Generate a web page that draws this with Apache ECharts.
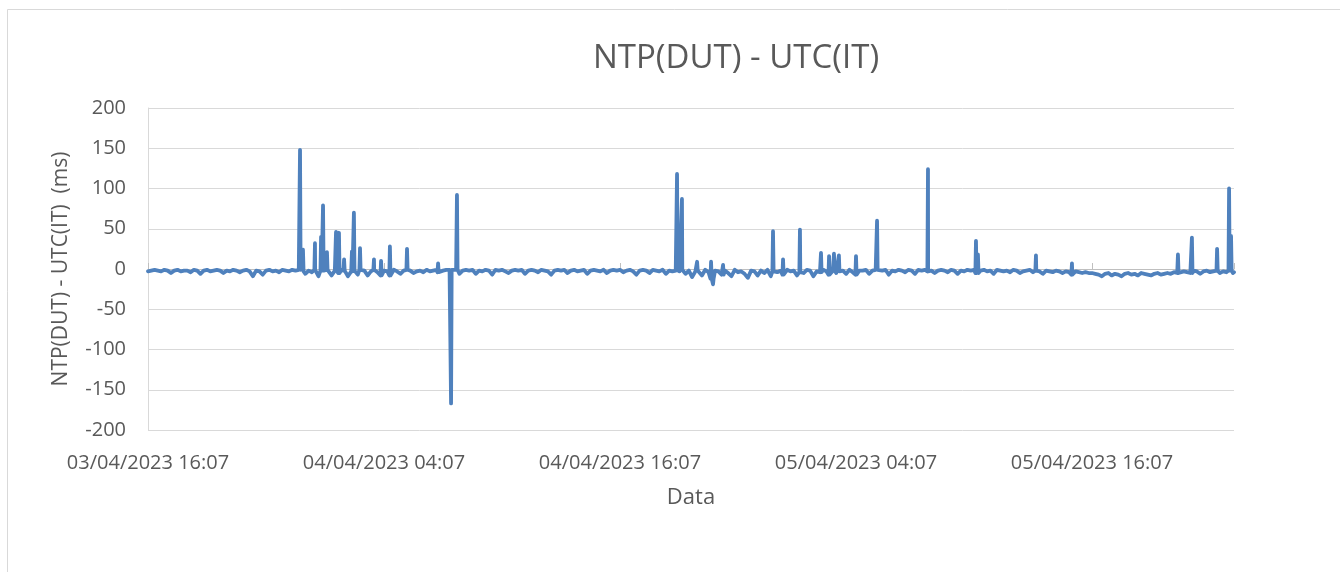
<!DOCTYPE html>
<html>
<head>
<meta charset="utf-8">
<script src="https://cdn.jsdelivr.net/npm/echarts@6/dist/echarts.min.js"></script>
<style>
html,body{margin:0;padding:0;background:#fff;}
#chart{width:1340px;height:572px;}
</style>
</head>
<body>
<div id="chart"></div>
<script>
// ---- DATA ----
// Baseline offset (ms), one reading every 10 minutes from 03/04/2023 16:07
const baseA = [-3,-2,-1,-2,-3,-1,-2,-5,-2,-1,-3,-2,-2,-4,-1,-2,-6,-2,-1,-3,-2,-1,-2,-5,-2,-3,-1,-2,-4,-2,-1,-3,-9,-2,-3,-7,-2,-1,-3,-2,-4,-1,-2,-3,-1,-2];
const baseB = [-1,-3,-6,-2,-4,-1,-9,-2,-3,-1,-8,-2,-5,-1,-2,-9,-3,-2,-7,-1,-2,-8,-3,-1,-4,-8,-2,-3,-8,-1,-3,-6,-2,-1,-2,-5,-3,-2,-4,-1,-3,-2,-1,-4,-2,-1];
const baseC = [-1,-2,-1,-6,-2,-1,-2,-1,-6,-2,-3,-1,-2,-7,-1,-2,-1,-3,-5,-2,-1,-2,-1,-6,-2,-1,-2,-4,-1,-2,-3,-7,-2,-1,-2,-1,-5,-2,-1,-3,-2,-1,-6,-2,-1,-2,-3,-1,-5,-2,-1,-2,-1,-4,-2,-1,-3,-7,-2,-1,-2,-5,-1,-2,-3,-1,-6,-2,-3,-2];
const baseD = [-3,-1,-6,-2,-10,-3,-2,-8,-1,-4,-12,-2,-3,-7,-2,-5,-9,-1,-4,-3,-6,-11,-2,-3,-8,-2,-5,-1,-9,-3,-4,-2,-7,-1,-3,-2,-8,-4,-5,-1,-2,-9,-3,-4,-1,-3,-7,-2,-5,-3,-2,-6,-1,-4,-7,-2];
const baseE = [-2,-1,-6,-2,-1,-3,-2,-1,-7,-2,-3,-1,-2,-4,-1,-2,-6,-1,-2,-1,-3,-2,-5,-2,-1,-2,-4,-1,-2,-6,-2,-3,-1,-2,-1,-5,-2,-1,-3,-2,-6,-1,-2,-3,-2,-4,-1,-2,-5,-3,-2,-1,-4,-2,-3,-6,-2,-3,-4,-2,-3,-5,-3,-4,-7,-3,-4,-5,-4,-5];
const baseF = [-5,-6,-7,-9,-6,-5,-8,-6,-7,-9,-6,-5,-7,-6,-8,-5,-6,-7,-8,-6,-5,-7,-6,-5,-6,-4,-5,-4];
const baseG = [-3,-4,-5,-2,-3,-6,-3,-2,-4,-3,-2,-5,-3,-4,-2,-5];
const lastValue = -4;
// Isolated excursions: hours after start, value (ms)
const spikeHours  = [7.73, 7.88, 8.49, 8.80, 8.90, 9.10, 9.56, 9.71, 9.97, 10.37, 10.47, 10.78, 11.49, 11.85, 12.30, 13.17, 14.75, 15.41, 15.71,
                     26.90, 27.00, 27.15, 27.92, 28.63, 28.73, 29.24, 31.78, 32.29, 33.15, 34.22, 34.63, 34.88, 35.13, 36.00, 37.07, 39.66,
                     42.10, 42.20, 45.15, 46.98, 52.37, 53.08, 54.36, 54.97, 55.07];
const spikeValues = [148, 24, 32, 40, 79, 21, 46, 45, 12, 22, 70, 26, 12, 10, 28, 25, 7, -167, 92,
                     118, 27, 87, 9, 9, -19, 5, 47, 12, 49, 20, 16, 19, 17, 16, 60, 124,
                     35, 18, 17, 7, 18, 39, 25, 100, 41];
const START_UTC = Date.UTC(2023, 3, 3, 16, 7);
const STEP_H = 1 / 6;
const END_H = 55.22;
const yTicks = {min: -200, max: 200, interval: 50};
const xTickHours = 12;

// ---- BUILD ----
const baseline = [].concat(baseA, baseB, baseC, baseD, baseE, baseF, baseG);
const pts = baseline.map((v, i) => [i * STEP_H, v]);
pts.push([END_H, lastValue]);
spikeHours.forEach((h, k) => {
  const idx = Math.min(baseline.length - 1, Math.round(h / STEP_H));
  const b = baseline[idx];
  pts.push([h - 0.03, b], [h, spikeValues[k]], [h + 0.03, b]);
});
pts.sort((a, b) => a[0] - b[0]);

function pad(n){ return (n < 10 ? '0' : '') + n; }
function fmt(h){
  if (Math.abs(h / xTickHours - Math.round(h / xTickHours)) > 1e-6) return '';
  const d = new Date(START_UTC + h * 3600000);
  return pad(d.getUTCDate()) + '/' + pad(d.getUTCMonth() + 1) + '/' + d.getUTCFullYear() + ' ' +
         pad(d.getUTCHours()) + ':' + pad(d.getUTCMinutes());
}

const FONT = 'Open Sans';
const TXT = '#595959';
const chart = echarts.init(document.getElementById('chart'), null, {renderer: 'canvas'});
chart.setOption({
  backgroundColor: '#fff',
  animation: false,
  graphic: [{
    type: 'rect', silent: true,
    shape: {x: 7.5, y: 9.5, width: 1400, height: 700},
    style: {fill: 'none', stroke: '#d9d9d9', lineWidth: 1}
  }],
  title: {
    text: 'NTP(DUT) - UTC(IT)',
    left: 588, top: 37,
    textStyle: {fontFamily: FONT, fontSize: 33, fontWeight: 'normal', color: TXT}
  },
  grid: {left: 148, right: 106, top: 108, bottom: 142, containLabel: false},
  xAxis: [{
    type: 'value', min: 0, max: END_H, interval: xTickHours,
    position: 'bottom',
    axisLine: {show: false, onZero: false},
    axisTick: {show: false},
    splitLine: {show: false},
    axisLabel: {formatter: fmt, fontFamily: FONT, fontSize: 20, color: TXT, margin: 23, showMaxLabel: false},
    name: 'Data', nameLocation: 'middle', nameGap: 57,
    nameTextStyle: {fontFamily: FONT, fontSize: 22, color: TXT}
  }, {
    type: 'value', min: 0, max: END_H, interval: xTickHours,
    position: 'bottom',
    axisLine: {show: true, onZero: true, lineStyle: {color: '#bfbfbf', width: 1}},
    axisTick: {show: true, inside: true, length: 6, lineStyle: {color: '#bfbfbf'}},
    axisLabel: {show: false},
    splitLine: {show: false}
  }],
  yAxis: {
    type: 'value', min: yTicks.min, max: yTicks.max, interval: yTicks.interval,
    axisLine: {show: true, lineStyle: {color: '#d9d9d9'}},
    axisTick: {show: false},
    splitLine: {show: true, lineStyle: {color: '#d9d9d9', width: 1}},
    axisLabel: {fontFamily: FONT, fontSize: 20, color: TXT, margin: 22},
    name: 'NTP(DUT) - UTC(IT)  (ms)', nameLocation: 'middle', nameGap: 76,
    nameTextStyle: {fontFamily: FONT, fontSize: 21, color: TXT}
  },
  series: [{
    type: 'line', xAxisIndex: 0, data: pts,
    showSymbol: false, symbol: 'none',
    lineStyle: {color: '#4f81bd', width: 3.8, join: 'round', cap: 'round'},
    itemStyle: {color: '#4f81bd'}
  }]
});
</script>
</body>
</html>
